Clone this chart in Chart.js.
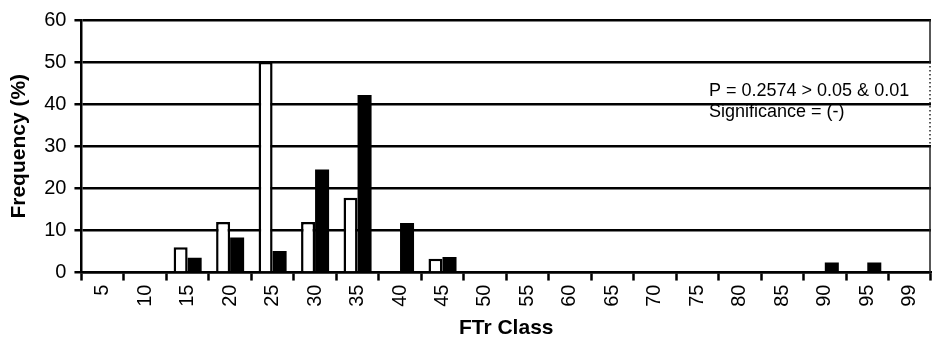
<!DOCTYPE html>
<html>
<head>
<meta charset="utf-8">
<script src="https://cdn.jsdelivr.net/npm/chart.js@4"></script>
<style>
  html, body { margin: 0; padding: 0; background: #fff; }
  canvas { display: block; }
</style>
</head>
<body>
<canvas id="ftrChart" width="932" height="343"></canvas>
<script>
// FTr classes on the x axis
const ftrClasses = ['5', '10', '15', '20', '25', '30', '35', '40', '45', '50',
                    '55', '60', '65', '70', '75', '80', '85', '90', '95', '99'];

// Frequency (%) per class, open bars
const freqOpen = [0, 0, 6, 12, 50, 12, 17.8, 0, 3.3, 0,
                  0, 0, 0, 0, 0, 0, 0, 0, 0, 0];

// Frequency (%) per class, solid bars
const freqSolid = [0, 0, 3.5, 8.3, 5.1, 24.5, 42.2, 11.8, 3.7, 0,
                   0, 0, 0, 0, 0, 0, 0, 2.4, 2.4, 0];

const yTicks = [0, 10, 20, 30, 40, 50, 60];

const noteLines = ['P = 0.2574 > 0.05 & 0.01', 'Significance = (-)'];

const FONT = '"Liberation Sans", Arial, sans-serif';

// Statistical note and the right-hand frame edge (dotted behind the note)
const notePlugin = {
    id: 'notePlugin',
    afterDraw(chart) {
        const { ctx, chartArea, scales } = chart;
        const xr = chartArea.right - 1;
        const yAt = v => scales.y.getPixelForValue(v);
        ctx.save();
        ctx.strokeStyle = '#222';
        ctx.lineWidth = 1.5;
        ctx.beginPath();
        ctx.moveTo(xr, chartArea.top);
        ctx.lineTo(xr, yAt(50));
        ctx.moveTo(xr, yAt(30));
        ctx.lineTo(xr, chartArea.bottom);
        ctx.stroke();
        ctx.setLineDash([1.5, 2.5]);
        ctx.beginPath();
        ctx.moveTo(xr, yAt(50));
        ctx.lineTo(xr, yAt(30));
        ctx.stroke();
        ctx.setLineDash([]);

        ctx.fillStyle = '#000';
        ctx.font = '18px ' + FONT;
        ctx.textAlign = 'left';
        ctx.textBaseline = 'middle';
        const x = chartArea.right - 222;
        const y0 = yAt(43.2);
        noteLines.forEach((line, i) => {
            ctx.fillText(line, x, y0 + i * 21);
        });
        ctx.restore();
    }
};

document.addEventListener('DOMContentLoaded', function () {
    const ctx = document.getElementById('ftrChart').getContext('2d');

    new Chart(ctx, {
        type: 'bar',
        data: {
            labels: ftrClasses,
            datasets: [
                {
                    label: 'Open',
                    data: freqOpen,
                    backgroundColor: '#ffffff',
                    borderColor: '#000000',
                    borderWidth: 2.5,
                    categoryPercentage: 0.66,
                    barPercentage: 1.0
                },
                {
                    label: 'Solid',
                    data: freqSolid,
                    backgroundColor: '#000000',
                    borderColor: '#000000',
                    borderWidth: 0,
                    categoryPercentage: 0.66,
                    barPercentage: 1.0
                }
            ]
        },
        options: {
            responsive: false,
            animation: false,
            devicePixelRatio: 1,
            layout: { padding: { top: 8, right: 1, left: 7, bottom: 0 } },
            plugins: {
                legend: { display: false },
                tooltip: { enabled: false }
            },
            scales: {
                x: {
                    offset: true,
                    // rotated labels sit inside their categories, no side padding needed
                    afterFit(axis) {
                        axis.paddingLeft = 0;
                        axis.paddingRight = 0;
                    },
                    grid: {
                        offset: true,
                        drawOnChartArea: false,
                        drawTicks: true,
                        tickLength: 8,
                        tickWidth: 2.5,
                        tickColor: '#000'
                    },
                    border: { display: true, color: '#000', width: 2.5 },
                    ticks: {
                        color: '#000',
                        font: { family: FONT, size: 20 },
                        minRotation: 90,
                        maxRotation: 90,
                        autoSkip: false,
                        padding: 4
                    },
                    title: {
                        display: true,
                        text: 'FTr Class',
                        color: '#000',
                        font: { family: FONT, size: 21, weight: 'bold' },
                        padding: { top: 5, bottom: 2 }
                    }
                },
                y: {
                    min: 0,
                    max: 60,
                    afterBuildTicks(axis) {
                        axis.ticks = yTicks.map(v => ({ value: v }));
                    },
                    grid: {
                        color: '#000',
                        lineWidth: 2.5,
                        drawTicks: true,
                        tickLength: 7
                    },
                    border: { display: true, color: '#000', width: 2.5 },
                    ticks: {
                        color: '#000',
                        font: { family: FONT, size: 20 },
                        padding: 8
                    },
                    title: {
                        display: true,
                        text: 'Frequency (%)',
                        color: '#000',
                        font: { family: FONT, size: 21, weight: 'bold' },
                        padding: { top: 0, bottom: 4 }
                    }
                }
            }
        },
        plugins: [notePlugin]
    });
});
</script>
</body>
</html>
